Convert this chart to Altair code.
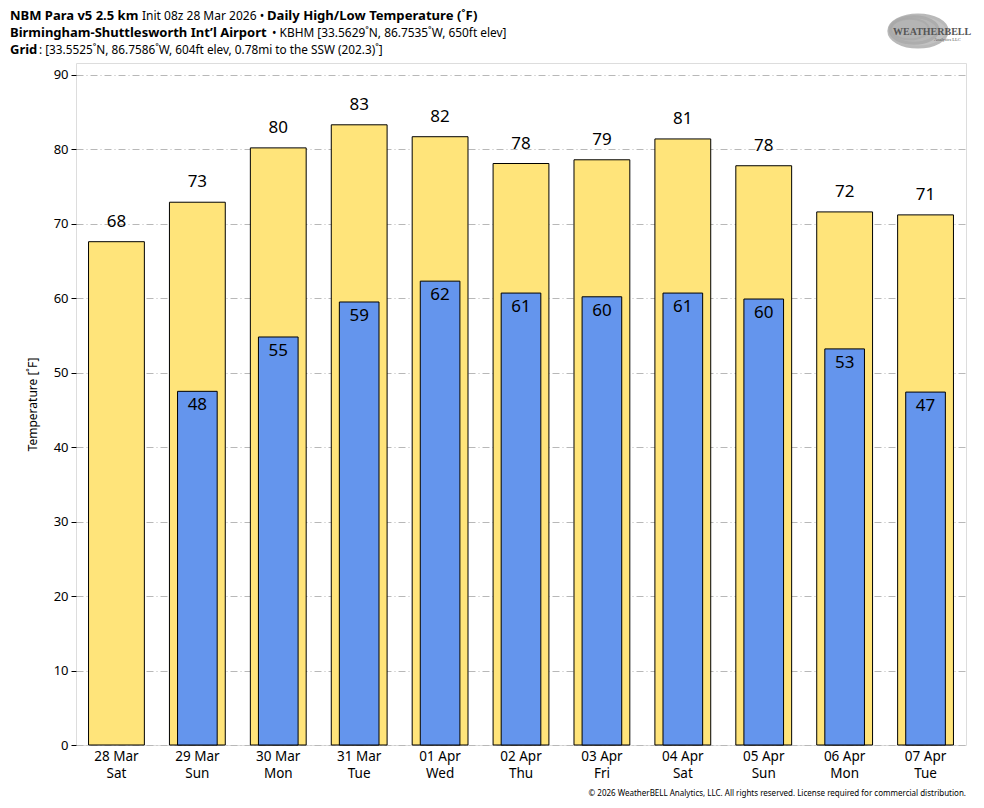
import altair as alt
import pandas as pd

days = ["28 Mar\nSat", "29 Mar\nSun", "30 Mar\nMon", "31 Mar\nTue", "01 Apr\nWed", "02 Apr\nThu",
        "03 Apr\nFri", "04 Apr\nSat", "05 Apr\nSun", "06 Apr\nMon", "07 Apr\nTue"]
highs = [67.6, 72.9, 80.2, 83.3, 81.7, 78.1, 78.6, 81.4, 77.8, 71.6, 71.2]
lows = [None, 47.5, 54.8, 59.5, 62.3, 60.7, 60.2, 60.7, 59.9, 53.2, 47.4]
high_labels = ["68", "73", "80", "83", "82", "78", "79", "81", "78", "72", "71"]
low_labels = ["", "48", "55", "59", "62", "61", "60", "61", "60", "53", "47"]

df = pd.DataFrame({"day": days, "high": highs, "low": lows,
                   "hl": high_labels, "ll": low_labels})
df_low = df.dropna(subset=["low"])

FONT = "Noto Sans"
W, H = 890, 682

xenc = alt.X("day:N", sort=days,
             scale=alt.Scale(paddingInner=0, paddingOuter=0),
             axis=alt.Axis(title=None, labelAngle=0, ticks=False, domain=False,
                           labelExpr="split(datum.label, '\\n')",
                           labelFontSize=13.5, labelColor="#000", labelFont=FONT,
                           labelPadding=4, labelLineHeight=17, grid=False))
yscale = alt.Scale(domain=[0, 91.6], nice=False, zero=True)
yenc = alt.Y("high:Q", scale=yscale,
             axis=alt.Axis(title="Temperature [˚F]", values=list(range(0, 100, 10)),
                           titleFont=FONT, titleFontSize=12, titleFontWeight="normal",
                           titleColor="#000", titlePadding=14,
                           labelFont=FONT, labelFontSize=13, labelColor="#000",
                           labelPadding=3,
                           tickColor="#000", tickSize=5, domain=False,
                           grid=True, gridColor="#b8b8b8", gridDash=[7, 3, 1, 3],
                           gridWidth=1))

base = alt.Chart(df)

high_bar = base.mark_bar(color="#FFE47A", stroke="#000", strokeWidth=1,
                         width=alt.RelativeBandSize(0.69)).encode(x=xenc, y=yenc)
high_txt = base.mark_text(font=FONT, fontSize=17, dy=-20, color="#000").encode(
    x=alt.X("day:N", sort=days), y=alt.Y("high:Q", scale=yscale), text="hl:N")

low_bar = alt.Chart(df_low).mark_bar(color="#6495ED", stroke="#000", strokeWidth=1,
                                     width=alt.RelativeBandSize(0.49)).encode(
    x=alt.X("day:N", sort=days), y=alt.Y("low:Q", scale=yscale))
low_txt = alt.Chart(df_low).mark_text(font=FONT, fontSize=17, dy=14, color="#000").encode(
    x=alt.X("day:N", sort=days), y=alt.Y("low:Q", scale=yscale), text="ll:N")

one = pd.DataFrame({"k": [0]})


def label(txt, x, y, size=14, weight="normal", align="left", color="#000", font=FONT):
    return alt.Chart(one).mark_text(align=align, baseline="middle", font=font,
                                    fontSize=size, fontWeight=weight, color=color).encode(
        x=alt.value(x), y=alt.value(y), text=alt.value(txt))


titles = [
    label("NBM Para v5 2.5 km", -66, -47, 13, "bold"),
    label("Init 08z 28 Mar 2026 •", 66, -47, 12),
    label("Daily High/Low Temperature (˚F)", 191, -47, 13.1, "bold"),
    label("Birmingham-Shuttlesworth Int’l Airport", -66, -30, 13, "bold"),
    label("• KBHM [33.5629˚N, 86.7535˚W, 650ft elev]", 196, -30, 11.9),
    label("Grid", -66, -13, 13, "bold"),
    label(": [33.5525˚N, 86.7586˚W, 604ft elev, 0.78mi to the SSW (202.3)˚]", -37, -13, 11.8),
    label("© 2026 WeatherBELL Analytics, LLC. All rights reserved. License required for commercial distribution.",
          890, 731, 8, align="right"),
]

ell = "M -1 0 A 1 0.55 0 1 1 1 0 A 1 0.55 0 1 1 -1 0 Z"
logo = [
    alt.Chart(one).mark_point(shape=ell, filled=f, fill="#b4b4b4", stroke="#a8a8a8", strokeWidth=s,
                              size=z, opacity=o).encode(x=alt.value(x), y=alt.value(y))
    for (x, y, z, s, f, o) in [(842, -32, 3400, 3, False, 0.8), (838, -33, 2300, 3, False, 0.8),
                               (834, -34, 1400, 2, True, 0.7)]
] + [
    label("WEATHERBELL", 817, -31, 10, "bold", color="#555", font="Liberation Serif"),
    label("Analytics LLC", 858, -23, 4.5, color="#555", font="Liberation Serif"),
]

chart = alt.layer(high_bar, high_txt, low_bar, low_txt, *titles, *logo).properties(
    width=W, height=H,
    autosize=alt.AutoSizeParams(type="none"),
    padding={"left": 68, "top": 55, "right": 10, "bottom": 55},
).configure_view(fill="#F4F4F4", stroke="#000", strokeWidth=1.2).configure(background="white")

chart.save("out.html", embed_options={"renderer": "svg", "actions": False})
